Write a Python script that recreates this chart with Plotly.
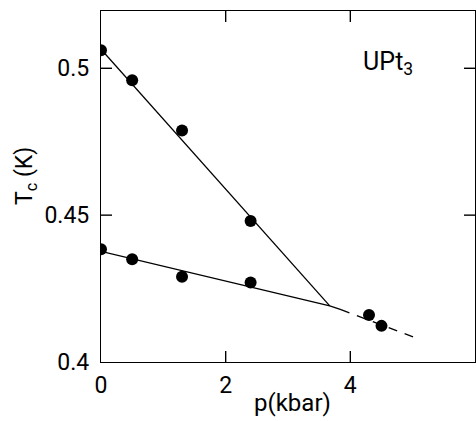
import plotly.graph_objects as go

# data
p_upper = [0.0, 0.5, 1.3, 2.4]
tc_upper = [0.5061, 0.4959, 0.4788, 0.4480]
p_lower = [0.0, 0.5, 1.3, 2.4]
tc_lower = [0.4384, 0.4350, 0.4290, 0.4271]
p_high = [4.3, 4.5]
tc_high = [0.4160, 0.4123]

fit_upper_p = [0.0, 3.67]
fit_upper_tc = [0.5065, 0.4191]
fit_lower_p = [0.0, 3.67, 3.85]
fit_lower_tc = [0.4377, 0.4191, 0.4178]
fit_dash_p = [3.85, 5.1]
fit_dash_tc = [0.4178, 0.4078]

x_ticks = [0, 2, 4, 6]
y_ticks = [0.4, 0.45, 0.5]
y_tick_labels = ["0.4", "0.45", "0.5"]
x_inner_ticks = [2, 4]
y_inner_ticks = [0.45, 0.5]

X_RANGE = [0, 6]
Y_RANGE = [0.4, 0.5195]

FONT = "Roboto, DejaVu Sans, sans-serif"
PLOT_W, PLOT_H = 374, 351
TICK_PX = 11

fig = go.Figure()
line_style = dict(color="black", width=1.3)
fig.add_trace(go.Scatter(x=fit_upper_p, y=fit_upper_tc, mode="lines", line=line_style))
fig.add_trace(go.Scatter(x=fit_lower_p, y=fit_lower_tc, mode="lines", line=line_style))
fig.add_trace(go.Scatter(x=fit_dash_p, y=fit_dash_tc, mode="lines",
                         line=dict(color="black", width=1.3, dash="9px,8px")))
marker = dict(color="black", size=12)
for xs, ys in [(p_upper, tc_upper), (p_lower, tc_lower), (p_high, tc_high)]:
    fig.add_trace(go.Scatter(x=xs, y=ys, mode="markers", marker=marker))

# inward tick marks on all four sides, built from the tick lists
dy = TICK_PX * (Y_RANGE[1] - Y_RANGE[0]) / PLOT_H
dx = TICK_PX * (X_RANGE[1] - X_RANGE[0]) / PLOT_W
tx, ty = [], []
for v in x_inner_ticks:
    tx += [v, v, None, v, v, None]
    ty += [Y_RANGE[0], Y_RANGE[0] + dy, None, Y_RANGE[1], Y_RANGE[1] - dy, None]
for v in y_inner_ticks:
    tx += [X_RANGE[0], X_RANGE[0] + dx, None, X_RANGE[1], X_RANGE[1] - dx, None]
    ty += [v, v, None, v, v, None]
fig.add_trace(go.Scatter(x=tx, y=ty, mode="lines", line=dict(color="black", width=1.4),
                         hoverinfo="skip", cliponaxis=False))

fig.add_annotation(x=4.6, y=0.5018, xref="x", yref="y", text="UPt<sub>3</sub>",
                   showarrow=False, font=dict(family=FONT, size=25, color="black"))
fig.add_annotation(x=(292 - 101) / PLOT_W, y=-41 / PLOT_H, xref="paper", yref="paper",
                   text="p(kbar)", showarrow=False, xanchor="center", yanchor="middle",
                   font=dict(family=FONT, size=24, color="black"))
fig.add_annotation(x=(26 - 101) / PLOT_W, y=(362 - 176) / PLOT_H, xref="paper", yref="paper",
                   text="T<sub>c</sub> (K)", showarrow=False, textangle=-90,
                   xanchor="center", yanchor="middle",
                   font=dict(family=FONT, size=23, color="black"))

fig.update_layout(
    template="none",
    width=476, height=421,
    margin=dict(l=101, r=1, t=11, b=59, autoexpand=False),
    paper_bgcolor="white", plot_bgcolor="white",
    showlegend=False,
    font=dict(family=FONT, size=23, color="black"),
)
fig.update_xaxes(range=X_RANGE, tickvals=x_ticks, ticktext=[str(v) for v in x_ticks],
                 ticks="", showline=True, linecolor="black", linewidth=1.3, mirror=True,
                 showgrid=False, zeroline=False, automargin=False, ticklabelstandoff=2)
fig.update_yaxes(range=Y_RANGE, tickvals=y_ticks, ticktext=y_tick_labels,
                 ticks="", showline=True, linecolor="black", linewidth=1.3, mirror=True,
                 showgrid=False, zeroline=False, automargin=False, ticklabelstandoff=6)

fig.write_html(
    "out.html",
    config={"responsive": False, "displayModeBar": False},
    post_script="document.body.style.margin='0';document.body.style.overflow='hidden';",
)
